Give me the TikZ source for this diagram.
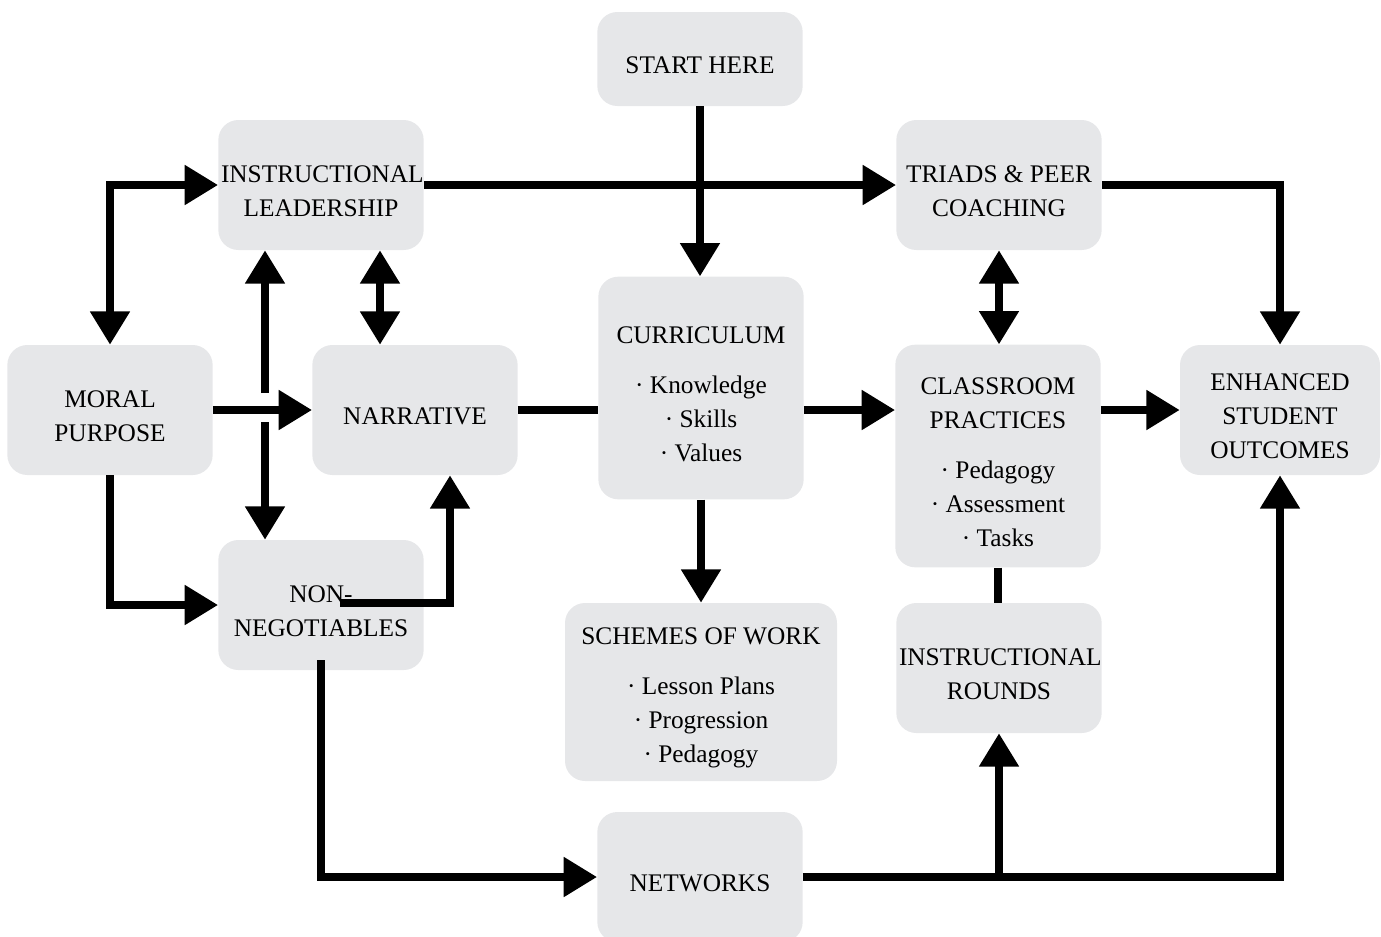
\documentclass[tikz,border=0pt]{standalone}
\usepackage{fontspec}
\setmainfont{Liberation Serif}
\usetikzlibrary{arrows.meta,positioning,calc}
\definecolor{boxgray}{RGB}{230,231,233}

\begin{document}
\begin{tikzpicture}[x=0.75pt,y=-0.75pt,
  box/.style={fill=boxgray,rounded corners=15pt,text width=150pt,minimum height=97.5pt,
    inner xsep=2pt,inner ysep=1pt,align=flush center,font=\fontsize{19}{25.5}\selectfont,
    execute at begin node={\rule{0pt}{22pt}}},
  link/.style={line width=6pt},
  arr/.style={link,-{Triangle[length=25pt,width=28.5pt]}},
  dbl/.style={link,{Triangle[length=25pt,width=28.5pt]}-{Triangle[length=25pt,width=28.5pt]}}]
  \useasboundingbox (0,0) rectangle (1381,936);
  \node[box,minimum height=70.5pt] (start) at (700,59) {START HERE};
  \node[box] (lead)   at (321,185) {INSTRUCTIONAL\\LEADERSHIP};
  \node[box] (triads) at (999,185) {TRIADS \& PEER\\COACHING};
  \node[box] (moral)  at (110,410) {MORAL\\PURPOSE};
  \node[box] (narr)   at (415,410) {NARRATIVE};
  \node[box,minimum height=167pt] (curr) at (701,388)
    {CURRICULUM\\[12pt]· Knowledge\\· Skills\\· Values};
  \node[box,minimum height=167pt] (class) at (998,456)
    {CLASSROOM\\PRACTICES\\[12pt]· Pedagogy\\· Assessment\\· Tasks};
  \node[box,text width=146pt] (outcome) at (1280,410) {ENHANCED\\STUDENT\\OUTCOMES};
  \node[box] (nonneg) at (321,605) {NON-\\NEGOTIABLES};
  \node[box,text width=200pt,minimum height=133.5pt] (schemes) at (701,692)
    {SCHEMES OF WORK\\[12pt]· Lesson Plans\\· Progression\\· Pedagogy};
  \node[box] (rounds) at (999,668) {INSTRUCTIONAL\\ROUNDS};
  \node[box] (net)    at (700,877) {NETWORKS};
  % split line between leadership and non-negotiables
  \coordinate (up)   at (265,393);
  \coordinate (down) at (265,422);
  \coordinate (mid)  at ($(lead.south)+(59,0)$);
  \draw[arr] (start.south) -- (start.south |- curr.north);
  \draw[arr] (lead) -- (triads);
  \draw[arr] (triads.east) -| (outcome.north);
  \draw[dbl] (lead.west) -| (moral.north);
  \draw[arr] (moral) -- (narr);
  \draw[arr] (up) -- (up |- lead.south);
  \draw[arr] (down) -- (down |- nonneg.north);
  \draw[dbl] (mid) -- (mid |- narr.north);
  \draw[arr] (moral.south) |- (nonneg.west);
  \draw[arr] ($(nonneg.center)+(19,-2)$) -| ($(narr.south)+(35,0)$);
  \draw[link] (narr.east) -- (narr.east -| curr.west);
  \draw[arr] (curr.east |- narr) -- (class.west |- narr);
  \draw[arr] (class.east |- outcome) -- (outcome.west);
  \draw[dbl] (triads.south) -- (triads.south |- class.north);
  \draw[arr] (curr.south) -- (schemes.north);
  \draw[link] (class.south) -- (class.south |- rounds.north);
  \draw[arr] ($(nonneg.south)+(0,-10)$) |- (net.west);
  \draw[arr] (net.east) -| (outcome.south);
  \draw[arr] (rounds.south |- net.east) -- (rounds.south);
\end{tikzpicture}
\end{document}
